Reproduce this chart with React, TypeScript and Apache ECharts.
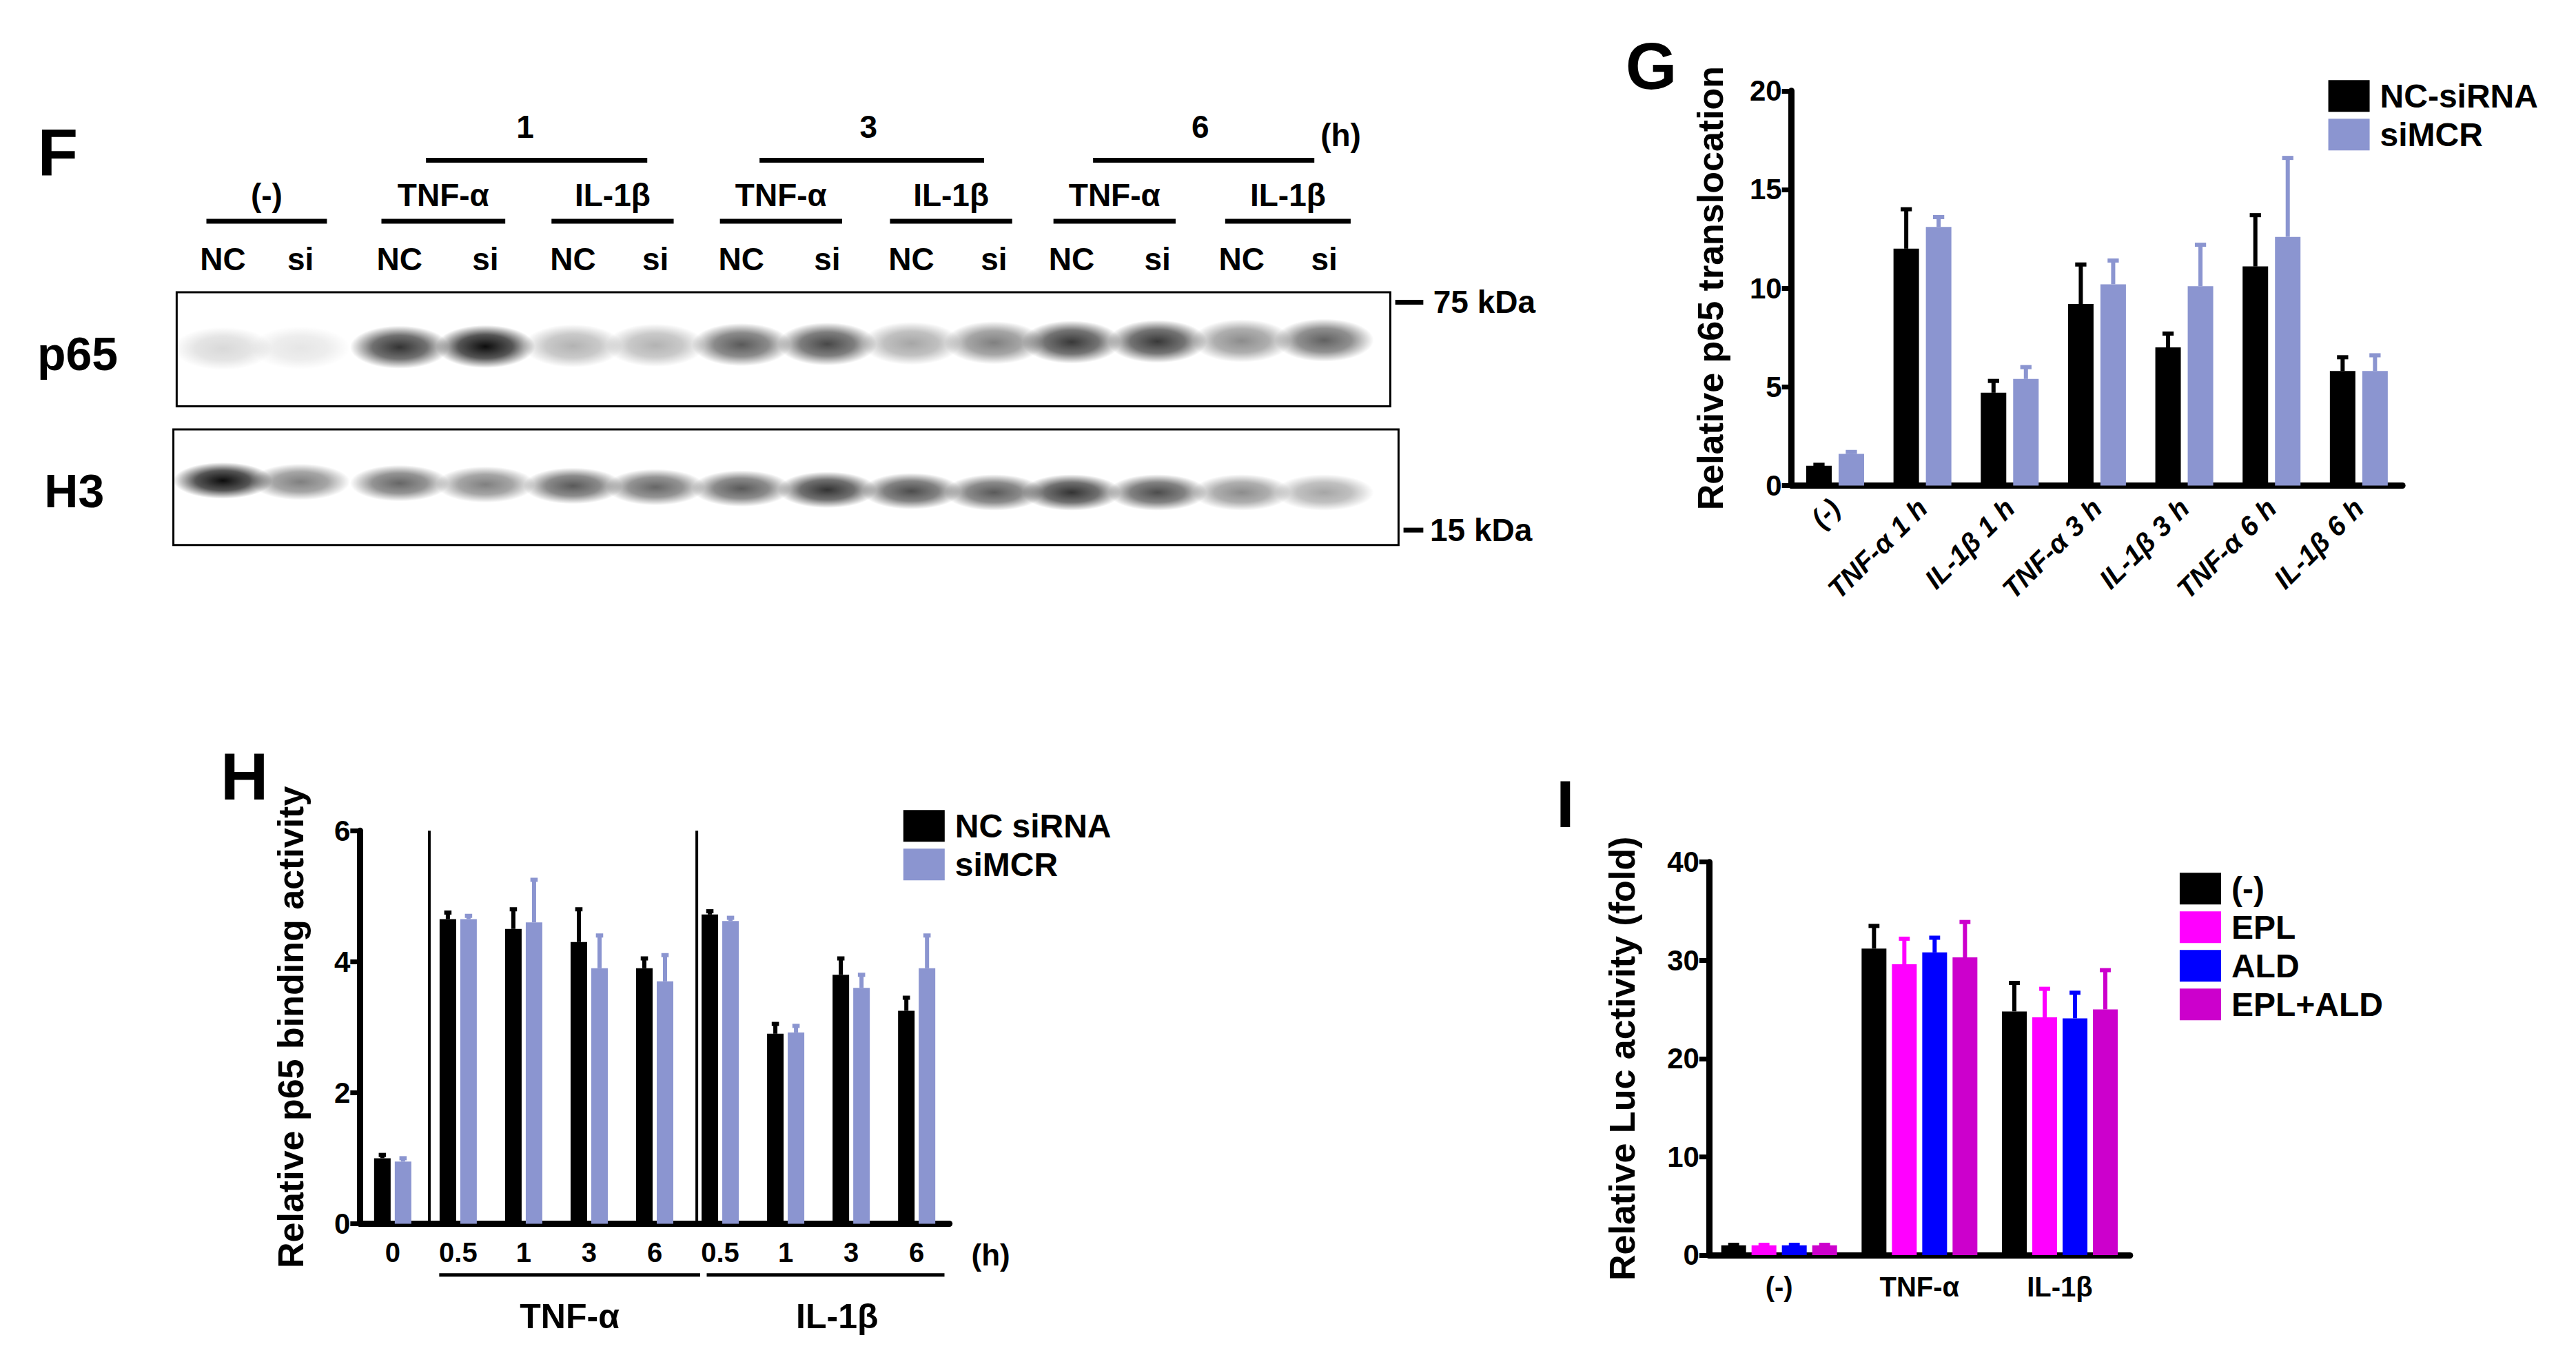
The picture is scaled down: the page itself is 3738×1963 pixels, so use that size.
import React, { useEffect, useRef } from "react";
import * as echarts from "echarts";

const K = 2.396;
const s = (v: number) => v * K;
const FONT = "Liberation Sans";
const NARROW = "Liberation Sans Narrow, Liberation Sans";

// Panel F (blot)
const laneX = [135, 182, 242, 294, 347, 397, 449, 501, 552, 602, 649, 701, 752, 802];
const laneLabels = ["NC", "si", "NC", "si", "NC", "si", "NC", "si", "NC", "si", "NC", "si", "NC", "si"];
const p65Int = [0.15, 0.1, 0.8, 0.95, 0.3, 0.3, 0.65, 0.72, 0.35, 0.5, 0.78, 0.78, 0.45, 0.62];
const h3Int = [0.95, 0.5, 0.6, 0.5, 0.65, 0.6, 0.65, 0.8, 0.7, 0.65, 0.8, 0.7, 0.45, 0.35];
const treatments = ["(-)", "TNF-α", "IL-1β", "TNF-α", "IL-1β", "TNF-α", "IL-1β"];
const timeLabels = ["1", "3", "6"];

// Panel G
const gCats = ["(-)", "TNF-α 1 h", "IL-1β 1 h", "TNF-α 3 h", "IL-1β 3 h", "TNF-α 6 h", "IL-1β 6 h"];
const gNC = [1.0, 12.0, 4.7, 9.2, 7.0, 11.1, 5.8];
const gNCErr = [0.05, 2.0, 0.6, 2.0, 0.7, 2.6, 0.7];
const gSi = [1.6, 13.1, 5.4, 10.2, 10.1, 12.6, 5.8];
const gSiErr = [0.1, 0.5, 0.6, 1.2, 2.1, 4.0, 0.8];

// Panel H
const hCats = ["0", "0.5", "1", "3", "6", "0.5", "1", "3", "6"];
const hNC = [1.0, 4.65, 4.5, 4.3, 3.9, 4.72, 2.9, 3.8, 3.25];
const hNCErr = [0.05, 0.1, 0.3, 0.5, 0.15, 0.05, 0.15, 0.25, 0.2];
const hSi = [0.95, 4.65, 4.6, 3.9, 3.7, 4.62, 2.92, 3.6, 3.9];
const hSiErr = [0.05, 0.05, 0.65, 0.5, 0.4, 0.05, 0.1, 0.2, 0.5];

// Panel I
const iCats = ["(-)", "TNF-α", "IL-1β"];
const iCtrl = [1, 31.2, 24.8];
const iCtrlErr = [0.05, 2.3, 2.9];
const iEPL = [1, 29.6, 24.2];
const iEPLErr = [0.05, 2.6, 2.9];
const iALD = [1, 30.8, 24.1];
const iALDErr = [0.05, 1.5, 2.6];
const iBoth = [1, 30.3, 25.0];
const iBothErr = [0.05, 3.6, 4.0];

const BLUE = "#8b95d0";

function App() {
  const ref = useRef<HTMLDivElement>(null);
  useEffect(() => {
    const chart = echarts.init(ref.current!, null, { renderer: "svg" });
    const series: any[] = [];
    const addGroup = (idx: number, vals: number[][], errs: number[][], colors: string[], names: string[], w: number, g: number) => {
      const n = vals.length;
      const total = n * w + (n - 1) * g;
      vals.forEach((v, i) => {
        series.push({
          type: "bar", name: names[i], xAxisIndex: idx, yAxisIndex: idx, data: v,
          barWidth: w, barGap: (g / w) * 100 + "%", itemStyle: { color: colors[i] }, z: 2,
        });
        const off = -total / 2 + i * (w + g) + w / 2;
        series.push({
          type: "custom", xAxisIndex: idx, yAxisIndex: idx, z: 1,
          data: v.map((val, j) => [j, val, errs[i][j]]),
          renderItem: (p: any, api: any) => {
            const b = api.coord([api.value(0), api.value(1)]);
            const t = api.coord([api.value(0), api.value(1) + api.value(2)]);
            const x = b[0] + off;
            const st = { stroke: colors[i], lineWidth: 6 };
            return {
              type: "group", children: [
                { type: "line", shape: { x1: x, y1: b[1], x2: x, y2: t[1] }, style: st },
                { type: "line", shape: { x1: x - w * 0.22, y1: t[1], x2: x + w * 0.22, y2: t[1] }, style: st },
              ],
            };
          },
        });
      });
    };
    addGroup(0, [gNC, gSi], [gNCErr, gSiErr], ["#000", BLUE], ["NC-siRNA", "siMCR"], 37, 10);
    addGroup(1, [hNC, hSi], [hNCErr, hSiErr], ["#000", BLUE], ["NC siRNA", "siMCR"], 24, 6);
    addGroup(2, [iCtrl, iEPL, iALD, iBoth], [iCtrlErr, iEPLErr, iALDErr, iBothErr], ["#000", "#ff00ff", "#0000ff", "#cc00cc"], ["(-)", "EPL", "ALD", "EPL+ALD"], 36, 8);

    const axisLine = { lineStyle: { color: "#000", width: 9 } };
    const yAx = (idx: number, max: number, interval: number, name: string, gap: number) => ({
      gridIndex: idx, type: "value", min: 0, max, interval, name, nameLocation: "middle", nameGap: gap,
      nameTextStyle: { fontFamily: FONT, fontWeight: "bold", fontSize: 52, color: "#000" },
      axisLine: { show: true, ...axisLine }, axisTick: { show: true, length: 14, lineStyle: { width: 7, color: "#000" } },
      axisLabel: { fontFamily: NARROW, fontWeight: "bold", fontSize: 42, color: "#000", margin: 14 },
      splitLine: { show: false },
    });

    const g: any[] = [];
    const txt = (x: number, y: number, t: string, size: number, align = "center", font = NARROW) =>
      g.push({ type: "text", x: s(x), y: s(y), style: { text: t, fontFamily: font, fontWeight: "bold", fontSize: size, fill: "#000", align, verticalAlign: "middle" } });
    const hl = (x1: number, x2: number, y: number, w = 7) =>
      g.push({ type: "line", shape: { x1: s(x1), y1: s(y), x2: s(x2), y2: s(y) }, style: { stroke: "#000", lineWidth: w } });

    // Panel letters
    txt(35, 92, "F", 96, "center", FONT);
    txt(1000, 40, "G", 96, "center", FONT);
    txt(148, 470, "H", 96, "center", FONT);
    txt(948, 487, "I", 96, "center", FONT);

    // F header
    const timeSpans = [[258, 392], [460, 596], [662, 796]];
    const timeX = [318, 526, 727];
    timeLabels.forEach((t, i) => { txt(timeX[i], 77, t, 46); hl(timeSpans[i][0], timeSpans[i][1], 97); });
    txt(812, 82, "(h)", 46);
    const trSpans = [[125, 198], [231, 306], [334, 408], [436, 510], [539, 613], [638, 712], [742, 818]];
    treatments.forEach((t, i) => { txt((trSpans[i][0] + trSpans[i][1]) / 2, 118, t, 46); hl(trSpans[i][0], trSpans[i][1], 134); });
    laneX.forEach((x, i) => txt(x, 157, laneLabels[i], 46));
    txt(47, 214, "p65", 68, "center", FONT);
    txt(45, 297, "H3", 68, "center", FONT);
    // blots
    g.push({ type: "rect", shape: { x: s(107), y: s(177), width: s(735), height: s(69) }, style: { fill: "#fff", stroke: "#000", lineWidth: 3 } });
    g.push({ type: "rect", shape: { x: s(105), y: s(260), width: s(742), height: s(70) }, style: { fill: "#fff", stroke: "#000", lineWidth: 3 } });
    const band = (x: number, y: number, a: number, rx: number, ry: number) =>
      g.push({
        type: "ellipse", shape: { cx: s(x), cy: s(y), rx: s(rx), ry: s(ry) },
        style: { fill: { type: "radial", x: 0.5, y: 0.5, r: 0.5, colorStops: [
          { offset: 0, color: `rgba(0,0,0,${a})` }, { offset: 0.55, color: `rgba(0,0,0,${a * 0.7})` }, { offset: 1, color: "rgba(0,0,0,0)" }] } },
      });
    laneX.forEach((x, i) => band(x, 211 - (i / 13) * 5, p65Int[i], 30, 13));
    laneX.forEach((x, i) => band(x, 291 + Math.min(i, 9) * 0.8, h3Int[i], 30, 11));
    hl(845, 862, 183, 7); txt(868, 183, "75 kDa", 46, "left");
    hl(850, 862, 321, 7); txt(866, 321, "15 kDa", 46, "left");

    // H extras
    [260, 422].forEach((x) => g.push({ type: "line", shape: { x1: s(x), y1: s(503), x2: s(x), y2: s(741) }, style: { stroke: "#000", lineWidth: 4 } }));
    hl(266, 424, 772, 5); hl(428, 572, 772, 5);
    txt(600, 760, "(h)", 44, "center", FONT);
    txt(345, 797, "TNF-α", 50, "center", FONT);
    txt(507, 797, "IL-1β", 50, "center", FONT);

    const legend = (left: number, top: number, names: string[], gap: number) => ({
      left: s(left), top: s(top), orient: "vertical", data: names, itemWidth: 60, itemHeight: 46, itemGap: gap,
      icon: "rect", textStyle: { fontFamily: FONT, fontWeight: "bold", fontSize: 48, color: "#000", padding: [0, 0, 0, 10] },
    });

    chart.setOption({
      animation: false,
      backgroundColor: "#fff",
      grid: [
        { left: s(1085), width: s(370), top: s(55), height: s(239) },
        { left: s(218), width: s(357), top: s(503), height: s(238) },
        { left: s(1035), width: s(255), top: s(522), height: s(238) },
      ],
      legend: [
        legend(1408, 46, ["NC-siRNA", "siMCR"], 8),
        legend(545, 488, ["NC siRNA", "siMCR"], 8),
        legend(1318, 526, ["(-)", "EPL", "ALD", "EPL+ALD"], 8),
      ],
      xAxis: [
        { gridIndex: 0, type: "category", data: gCats, axisLine, axisTick: { alignWithLabel: true, length: 14, lineStyle: { width: 7, color: "#000" } },
          axisLabel: { rotate: 45, fontFamily: FONT, fontStyle: "italic", fontWeight: "bold", fontSize: 40, color: "#000", margin: 26 } },
        { gridIndex: 1, type: "category", data: hCats, axisLine, axisTick: { show: false },
          axisLabel: { fontFamily: FONT, fontWeight: "bold", fontSize: 40, color: "#000", margin: 22 } },
        { gridIndex: 2, type: "category", data: iCats, axisLine, axisTick: { alignWithLabel: true, length: 14, lineStyle: { width: 7, color: "#000" } },
          axisLabel: { fontFamily: FONT, fontWeight: "bold", fontSize: 40, color: "#000", margin: 26 } },
      ],
      yAxis: [
        yAx(0, 20, 5, "Relative p65 translocation", 92),
        yAx(1, 6, 2, "Relative p65 binding activity", 74),
        yAx(2, 40, 10, "Relative Luc activity (fold)", 100),
      ],
      series,
      graphic: g,
    });
    return () => chart.dispose();
  }, []);
  return <div ref={ref} style={{ position: "fixed", left: 0, top: 0, width: 3738, height: 1963 }} />;
}

export default App;
